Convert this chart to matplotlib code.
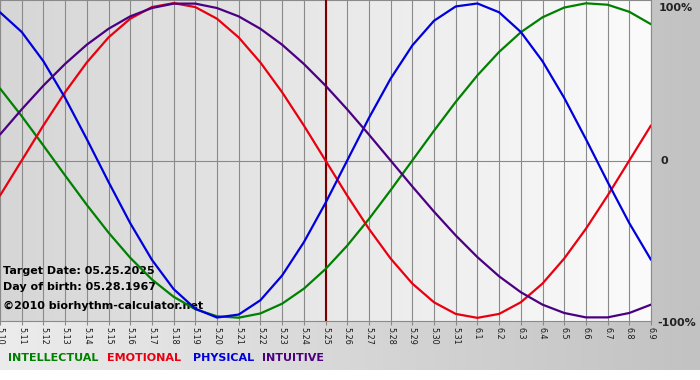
import matplotlib
matplotlib.use('Agg')
import matplotlib.pyplot as plt
import numpy as np
from matplotlib.colors import LinearSegmentedColormap

# Day labels along the bottom axis (month.day)
dates = ['5.10', '5.11', '5.12', '5.13', '5.14', '5.15', '5.16', '5.17', '5.18', '5.19',
         '5.20', '5.21', '5.22', '5.23', '5.24', '5.25', '5.26', '5.27', '5.28', '5.29',
         '5.30', '5.31', '6.1', '6.2', '6.3', '6.4', '6.5', '6.6', '6.7', '6.8', '6.9']
target_day = '5.25'

# Cycle values per day (-1 .. 1)
intellectual = [0.458, 0.282, 0.095, -0.095, -0.282, -0.458, -0.618, -0.756, -0.866, -0.945,
                -0.990, -0.999, -0.972, -0.910, -0.815, -0.690, -0.541, -0.372, -0.189, 0.0,
                0.189, 0.372, 0.541, 0.690, 0.815, 0.910, 0.972, 0.999, 0.990, 0.945, 0.866]
emotional = [-0.223, 0.0, 0.223, 0.434, 0.623, 0.782, 0.901, 0.975, 1.0, 0.975,
             0.901, 0.782, 0.623, 0.434, 0.223, 0.0, -0.223, -0.434, -0.623, -0.782,
             -0.901, -0.975, -1.0, -0.975, -0.901, -0.782, -0.623, -0.434, -0.223, 0.0, 0.223]
physical = [0.942, 0.817, 0.631, 0.398, 0.136, -0.136, -0.398, -0.631, -0.817, -0.942,
            -0.998, -0.979, -0.888, -0.731, -0.520, -0.270, 0.0, 0.270, 0.520, 0.731,
            0.888, 0.979, 0.998, 0.942, 0.817, 0.631, 0.398, 0.136, -0.136, -0.398, -0.631]
intuitive = [0.165, 0.325, 0.476, 0.614, 0.736, 0.837, 0.916, 0.969, 0.997, 0.997,
             0.969, 0.916, 0.837, 0.736, 0.614, 0.476, 0.325, 0.165, 0.0, -0.165,
             -0.325, -0.476, -0.614, -0.736, -0.837, -0.916, -0.969, -0.997, -0.997, -0.969, -0.916]

series = [('INTELLECTUAL', intellectual, '#008000'),
          ('EMOTIONAL', emotional, '#e80010'),
          ('PHYSICAL', physical, '#0000dd'),
          ('INTUITIVE', intuitive, '#4b0082')]

info_lines = ['Target Date: 05.25.2025', 'Day of birth: 05.28.1967', '\u00a92010 biorhythm-calculator.net']

plt.rcParams['font.family'] = 'DejaVu Sans'

W, H = 700, 380
fig = plt.figure(figsize=(W / 100, H / 100), dpi=100, facecolor='white')

# grey backdrop, lighter on the left
bg = fig.add_axes([0, 10 / H, 1, 370 / H])
bg_cmap = LinearSegmentedColormap.from_list('bg', ['#ececec', '#c2c2c2'])
bg.imshow(np.linspace(0, 1, 256).reshape(1, -1), cmap=bg_cmap, aspect='auto', extent=[0, 1, 0, 1])
bg.axis('off')

# plot area
ax = fig.add_axes([0, 59 / H, 651 / W, 321 / H])
plot_cmap = LinearSegmentedColormap.from_list('plot', ['#d6d6d6', '#fbfbfb'])
ax.imshow(np.linspace(0, 1, 256).reshape(1, -1), cmap=plot_cmap, aspect='auto',
          extent=[0, 1, 0, 1], transform=ax.transAxes, zorder=0)

x = np.arange(len(dates))
for xi in x:
    ax.axvline(xi, color='#8a8a8a', lw=0.8, zorder=1)
ax.axhline(0, color='#8a8a8a', lw=0.8, zorder=1)

for i, line in enumerate(info_lines):
    ax.text(3 / 651, (50 - 16 * i - (3 if i == 2 else 0)) / 321, line, transform=ax.transAxes,
            fontsize=8, fontweight='bold', color='black', va='center', ha='left', zorder=2)

ax.axvline(dates.index(target_day), color='#7a0000', lw=1.5, zorder=3)

for name, values, color in series:
    ax.plot(x, values, color=color, lw=1.6, zorder=4, solid_capstyle='round', solid_joinstyle='round')

ax.set_xlim(0, len(dates) - 1)
ax.set_ylim(-1.02, 1.02)
ax.set_xticks(x)
ax.set_xticklabels(dates, rotation=-90, fontsize=5.8, color='#1a1a1a')
ax.tick_params(axis='x', length=3, color='#8a8a8a', pad=1.5)
ax.set_yticks([])
for s in ax.spines.values():
    s.set_color('#8a8a8a')
    s.set_linewidth(0.8)

# right hand percent labels
yt = ax.get_yaxis_transform()
ax.text(1.012, 0.97, '100%', transform=yt, fontsize=8, fontweight='bold', color='#222222', va='center')
ax.text(1.014, 0.0, '0', transform=yt, fontsize=8, fontweight='bold', color='#222222', va='center')
ax.text(1.010, -1.03, '-100%', transform=yt, fontsize=8, fontweight='bold', color='#222222', va='center')

# legend row
legend_x = [8, 107, 193, 262]
for (name, values, color), lx in zip(series, legend_x):
    fig.text(lx / W, 1 - 358 / H, name, color=color, fontsize=8, fontweight='bold', va='center')

fig.savefig('out.png', dpi=100)
